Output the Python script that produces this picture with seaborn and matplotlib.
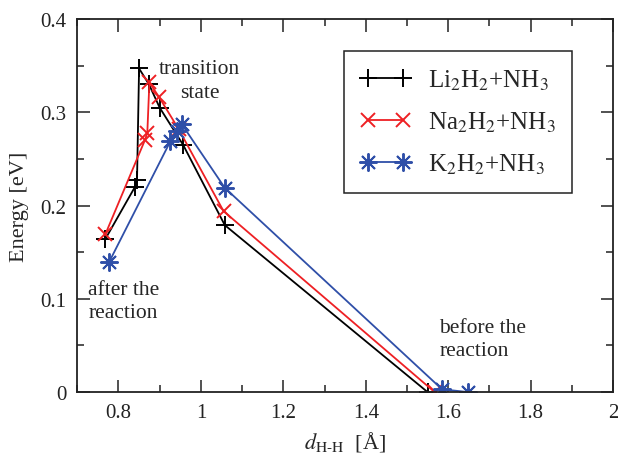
import numpy as np
import pandas as pd
import matplotlib
matplotlib.use("Agg")
import matplotlib.pyplot as plt
from matplotlib.ticker import MultipleLocator
import seaborn as sns

# Data (d_H-H in Angstrom, energy in eV)
li_x = [0.768, 0.840, 0.845, 0.850, 0.874, 0.900, 0.957, 1.058, 1.550]
li_y = [0.164, 0.220, 0.227, 0.347, 0.330, 0.305, 0.265, 0.179, 0.000]

na_x = [0.768, 0.864, 0.870, 0.875, 0.899, 0.946, 1.055, 1.567]
na_y = [0.169, 0.270, 0.278, 0.332, 0.316, 0.282, 0.194, 0.000]

k_x = [0.778, 0.926, 0.941, 0.954, 1.058, 1.585, 1.648]
k_y = [0.140, 0.269, 0.280, 0.287, 0.219, 0.003, 0.000]

labels = [r'Li$_2$H$_2$+NH$_3$', r'Na$_2$H$_2$+NH$_3$', r'K$_2$H$_2$+NH$_3$']

sns.set_style("ticks")
plt.rcParams['font.family'] = ['Liberation Serif', 'DejaVu Serif']
plt.rcParams['mathtext.fontset'] = 'stix'

fig, ax = plt.subplots(figsize=(6.18, 4.56), dpi=100)
fig.subplots_adjust(left=0.125, right=0.992, top=0.956, bottom=0.138)

series = [
    (li_x, li_y, labels[0], 'black', '+', 13),
    (na_x, na_y, labels[1], '#ee2024', 'x', 10),
    (k_x, k_y, labels[2], '#2f4fa8', (8, 2, 0), 13),
]
for xs, ys, lab, col, mk, ms in series:
    sns.lineplot(x=xs, y=ys, ax=ax, sort=False, estimator=None, color=col,
                 marker=mk, markersize=ms, markeredgewidth=1.4,
                 markeredgecolor=col, linewidth=1.3, label=lab)

ax.set_xlim(0.7, 2.0)
ax.set_ylim(0, 0.4)
ax.xaxis.set_minor_locator(MultipleLocator(0.1))
ax.yaxis.set_minor_locator(MultipleLocator(0.05))
ax.set_xticks(np.arange(0.8, 2.01, 0.2))
ax.set_xticklabels(['0.8', '1', '1.2', '1.4', '1.6', '1.8', '2'])
ax.set_yticks([0, 0.1, 0.2, 0.3, 0.4])
ax.set_yticklabels(['0', '0.1', '0.2', '0.3', '0.4'])
ax.tick_params(which='both', direction='in', top=True, right=True,
               labelsize=15, width=1.1, colors='#222222')
ax.tick_params(which='major', length=9, pad=8)
ax.tick_params(which='minor', length=5)
for s in ax.spines.values():
    s.set_linewidth(1.3)
    s.set_color('#222222')

ax.set_xlabel(r'$d_{\mathrm{H}\text{-}\mathrm{H}}$  [Å]', fontsize=16, labelpad=5)
ax.set_ylabel('Energy [eV]', fontsize=16, labelpad=8)

ax.text(0.997, 0.334, 'transition\nstate', ha='center', va='center',
        fontsize=15.5, linespacing=1.4)
ax.text(0.727, 0.0975, 'after the\nreaction', ha='left', va='center',
        fontsize=15.5, linespacing=1.3)
ax.text(1.579, 0.057, 'before the\nreaction', ha='left', va='center',
        fontsize=15.5, linespacing=1.3)

leg = ax.legend(loc='upper left', bbox_to_anchor=(0.498, 0.914), fontsize=18,
                numpoints=2, handlelength=2.0, handletextpad=0.7,
                labelspacing=0.72, borderpad=0.65, borderaxespad=0,
                fancybox=False, framealpha=1, edgecolor='#222222')
leg.get_frame().set_linewidth(1.1)

plt.savefig('out.png', dpi=100)
